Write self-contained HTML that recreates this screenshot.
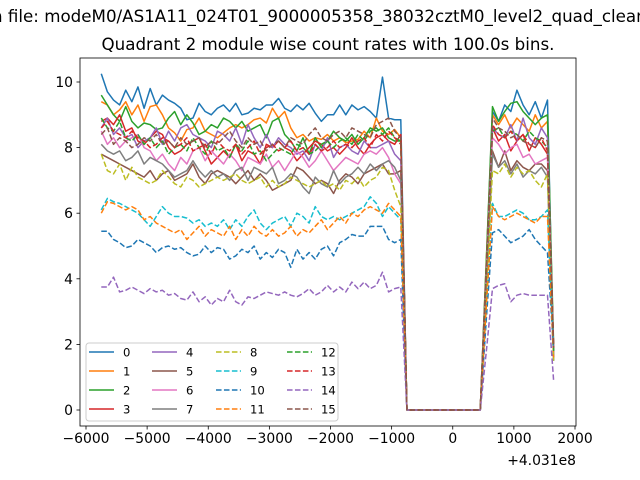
<!DOCTYPE html>
<html><head><meta charset="utf-8"><style>
html,body{margin:0;padding:0;background:#fff;}
svg{display:block;font-family:"DejaVu Sans","Liberation Sans",sans-serif;}
</style></head><body>
<svg id="chart" width="640" height="480" viewBox="0 0 640 480" xmlns="http://www.w3.org/2000/svg">
<rect width="640" height="480" fill="#fff"/>
<text x="-8" y="22" font-size="16.7" fill="#000">n file: modeM0/AS1A11_024T01_9000005358_38032cztM0_level2_quad_clean</text>
<text x="328" y="50" font-size="16.7" text-anchor="middle" fill="#000">Quadrant 2 module wise count rates with 100.0s bins.</text>
<g id="plot"></g>
<g id="axes"></g>
<g id="legend"></g>
</svg>
<script>
const xTicks=[-6000,-5000,-4000,-3000,-2000,-1000,0,1000,2000];
const yTicks=[0,2,4,6,8,10];
const seriesNames=["0","1","2","3","4","5","6","7","8","9","10","11","12","13","14","15"];
const tStart=-5750, binSize=100;
const gap=[0,0,0,0,0,0,0,0,0,0,0,0,0];
const s0a=[10.25,9.7,9.45,9.3,9.75,9.4,9.85,9.2,9.8,9.3,9.6,9.45,9.35,9.2,8.85,8.9,9.35,9.1,9.0,9.2,9.3,9.1,9.35,9.0,9.05,9.2,9.15,9.3,9.3,9.5,9.2,9.1,9.3,9.15,9.35,9.05,8.8,9.0,9.0,9.3,9.0,9.3,9.15,9.25,9.1,8.9,10.15,8.9,8.85,8.85];
const s0b=[4.5,9.1,8.8,9.3,9.1,9.75,9.3,9.0,9.4,8.9,9.45,1.5];
const s1a=[9.4,9.3,9.0,9.15,9.4,9.0,9.3,8.8,9.25,9.3,9.0,8.6,8.45,8.2,8.55,8.6,8.9,8.5,8.4,8.3,8.45,8.6,8.7,8.6,8.7,8.85,8.9,8.75,9.2,8.9,9.1,8.6,8.3,8.4,8.2,8.3,8.25,8.4,8.2,8.3,8.15,8.2,8.25,8.5,8.3,8.9,8.5,8.4,8.55,8.3];
const s1b=[4.6,9.0,8.7,9.0,8.6,8.9,8.7,8.5,9.0,8.6,8.8,1.8];
const s2a=[9.6,9.3,9.0,8.8,9.25,8.8,8.6,8.75,8.7,8.55,8.6,8.9,9.1,8.7,9.0,8.75,8.4,8.5,8.7,8.6,8.9,8.8,8.6,8.8,8.5,8.6,8.7,8.3,8.8,8.9,8.4,8.2,7.9,8.3,7.8,8.3,8.0,8.2,8.5,8.3,8.2,8.4,8.1,8.3,8.6,8.5,8.6,8.3,8.2,8.2];
const s2b=[4.6,9.25,8.8,9.1,9.35,9.4,9.1,8.9,8.7,8.9,9.0,2.0];
const s3a=[8.8,8.9,8.7,9.0,8.5,8.6,8.2,8.1,8.3,8.5,8.4,8.0,7.8,7.9,8.1,8.2,8.3,7.9,7.5,7.7,7.9,7.7,8.1,7.6,7.9,7.8,7.5,8.1,8.0,8.2,8.0,7.9,7.6,7.8,8.0,8.2,8.1,7.9,8.0,7.8,8.0,8.3,8.0,7.8,8.1,8.3,8.4,8.2,8.1,8.4];
const s3b=[4.3,8.6,8.2,8.4,7.9,8.2,8.4,7.9,8.3,8.1,7.8,1.9];
const s4a=[8.6,8.9,8.4,8.6,8.3,8.4,8.0,8.2,8.3,8.6,8.1,8.5,8.2,8.6,8.7,8.4,8.3,8.2,8.0,8.5,8.4,8.2,8.6,8.1,8.7,8.3,8.0,8.4,8.0,8.3,8.1,8.0,7.8,7.9,7.6,8.1,7.9,8.3,7.7,8.0,8.1,7.9,7.8,8.2,8.0,8.0,8.1,8.2,7.8,7.6];
const s4b=[4.2,8.6,8.4,8.3,8.7,8.2,8.9,8.3,8.1,8.6,8.3,1.7];
const s5a=[7.8,7.7,7.6,7.5,7.4,7.3,7.2,7.1,7.3,7.0,7.2,7.3,7.0,7.1,7.2,7.5,7.1,6.9,7.2,7.3,7.2,7.1,6.9,7.1,7.3,7.0,7.2,7.0,6.7,6.8,6.9,7.0,7.4,7.3,7.1,6.9,7.0,6.9,6.6,7.0,7.2,7.1,6.9,7.2,7.3,7.4,7.5,7.2,7.2,7.3];
const s5b=[3.8,7.9,7.4,7.9,7.3,7.6,7.4,7.3,7.5,7.5,7.3,1.6];
const s6a=[8.5,8.1,8.3,8.0,8.2,8.3,8.4,8.0,7.9,7.6,7.8,7.5,7.3,7.7,7.5,7.9,8.0,7.6,7.9,7.7,7.5,7.8,7.6,7.3,7.7,7.6,7.5,7.8,7.4,7.6,7.3,7.6,7.9,7.7,7.4,7.6,7.9,7.6,7.3,7.5,7.7,7.6,7.5,7.8,7.9,7.8,8.0,7.7,7.2,6.9];
const s6b=[4.2,8.3,8.1,7.8,8.0,8.1,7.7,7.8,7.5,7.6,7.7,1.7];
const s7a=[8.1,7.9,7.8,7.9,7.6,7.7,7.9,7.5,7.7,7.6,7.5,7.3,7.1,7.2,7.3,7.6,7.3,7.1,7.3,7.1,7.2,7.0,7.3,7.4,7.0,7.4,7.3,7.2,7.4,6.9,7.0,7.2,7.1,6.8,6.6,7.1,6.9,6.8,7.3,6.9,7.1,7.2,7.4,7.2,7.5,7.3,7.5,7.6,7.4,7.0];
const s7b=[3.9,7.8,7.4,7.6,7.2,7.5,7.1,7.3,7.2,7.4,7.1,1.6];
const s8a=[7.8,7.3,7.2,7.5,7.0,7.4,7.1,7.0,6.9,7.0,7.3,7.1,6.9,6.8,7.1,7.0,6.8,6.9,7.0,7.1,7.0,7.1,7.2,7.0,6.9,7.0,7.1,6.8,7.0,6.8,6.9,7.1,7.0,6.9,6.8,6.9,7.0,6.8,6.9,6.7,7.0,6.9,7.1,6.8,7.0,7.1,7.4,7.3,6.7,6.2];
const s8b=[3.6,7.3,7.2,7.5,7.1,7.4,7.2,7.3,7.0,6.8,7.2,1.5];
const s9a=[6.1,6.45,6.35,6.3,6.2,6.1,6.0,5.8,5.6,5.9,6.2,6.0,5.9,5.9,5.85,5.7,5.8,5.6,5.7,5.6,5.8,5.5,5.8,5.6,5.9,6.1,5.7,5.5,5.7,5.8,5.9,5.6,6.0,5.9,5.7,6.2,5.9,5.8,5.9,5.8,5.9,6.0,6.1,6.2,6.5,6.3,5.9,6.2,6.0,5.8];
const s9b=[3.2,6.3,5.9,5.9,6.0,6.1,6.0,5.8,5.8,5.9,6.1,1.8];
const s10a=[5.45,5.45,5.2,5.1,4.95,5.0,5.2,5.1,5.0,4.8,4.95,5.0,4.9,4.95,4.8,4.7,4.75,5.0,4.8,4.95,4.9,4.6,4.7,4.9,4.8,5.0,4.6,4.8,4.65,4.9,4.8,4.35,4.9,4.6,4.8,4.6,4.9,5.0,4.7,5.1,5.2,5.35,5.3,5.3,5.6,5.6,5.6,5.2,5.1,5.2];
const s10b=[2.8,5.4,5.5,5.3,5.1,5.2,5.3,5.5,5.2,5.0,4.8,1.8];
const s11a=[6.0,6.35,6.3,6.2,6.1,6.2,6.1,5.8,5.9,5.7,5.6,5.5,5.4,5.5,5.2,5.4,5.6,5.3,5.5,5.4,5.3,5.6,5.2,5.5,5.3,5.6,5.4,5.3,5.5,5.3,5.4,5.6,5.3,5.5,5.4,5.6,5.8,5.5,5.7,5.9,5.7,6.0,5.9,6.1,6.2,6.1,6.0,6.3,6.1,5.9];
const s11b=[3.2,6.2,5.9,5.8,5.9,6.0,5.9,5.8,5.7,5.9,5.9,1.6];
const s12a=[8.9,8.6,8.5,8.8,8.3,8.2,8.4,8.1,8.3,8.0,8.2,7.8,8.0,8.1,7.9,8.3,8.0,7.8,8.2,7.9,8.0,7.7,8.1,7.9,8.2,7.8,7.9,7.6,7.8,8.0,7.9,7.8,8.1,8.0,7.8,7.9,8.1,8.2,8.0,8.2,8.3,8.1,8.4,8.2,8.5,8.6,8.4,8.6,8.3,8.2];
const s12b=[4.3,8.5,8.6,8.3,8.5,8.4,8.2,8.5,8.3,8.2,8.0,1.8];
const s13a=[8.6,8.8,8.5,8.4,8.3,8.5,8.3,8.2,8.0,8.1,8.3,8.2,8.0,8.1,8.3,7.9,8.0,8.1,7.8,8.2,8.0,7.9,8.1,7.8,8.0,8.2,7.8,8.0,8.1,7.9,8.0,8.2,7.9,8.0,7.8,8.1,7.9,8.0,8.2,8.0,8.1,8.0,8.2,8.3,8.0,8.4,8.2,8.5,8.3,8.1];
const s13b=[4.2,8.7,8.4,8.3,8.5,8.2,8.4,8.1,8.0,8.3,7.9,1.9];
const s14a=[3.75,3.75,4.05,3.6,3.65,3.75,3.65,3.55,3.7,3.6,3.65,3.5,3.55,3.4,3.35,3.6,3.3,3.45,3.2,3.4,3.3,3.65,3.3,3.2,3.45,3.4,3.5,3.6,3.55,3.5,3.6,3.5,3.45,3.55,3.7,3.5,3.6,3.8,3.6,3.75,3.6,3.9,3.7,3.9,3.7,3.8,4.2,3.6,3.7,3.75];
const s14b=[1.8,3.7,3.8,3.85,3.3,3.5,3.55,3.5,3.5,3.5,3.5,0.9];
const s15a=[8.4,8.6,8.1,8.3,8.2,8.0,8.1,8.3,8.2,8.4,8.1,8.2,8.0,8.3,8.1,8.2,8.3,8.0,8.2,8.1,8.3,8.5,8.2,8.0,8.3,8.1,8.2,7.9,8.1,8.2,8.0,8.3,8.2,8.1,8.4,8.6,8.3,8.2,8.4,8.5,8.3,8.6,8.5,8.4,8.3,8.7,8.8,8.9,8.5,8.3];
const s15b=[4.3,8.9,8.6,8.5,8.3,8.4,8.2,8.1,8.0,8.3,8.2,1.9];

const seriesValues=[
 s0a.concat(gap,s0b),s1a.concat(gap,s1b),s2a.concat(gap,s2b),s3a.concat(gap,s3b),
 s4a.concat(gap,s4b),s5a.concat(gap,s5b),s6a.concat(gap,s6b),s7a.concat(gap,s7b),
 s8a.concat(gap,s8b),s9a.concat(gap,s9b),s10a.concat(gap,s10b),s11a.concat(gap,s11b),
 s12a.concat(gap,s12b),s13a.concat(gap,s13b),s14a.concat(gap,s14b),s15a.concat(gap,s15b)];

const NS="http://www.w3.org/2000/svg";
const colors=["#1f77b4","#ff7f0e","#2ca02c","#d62728","#9467bd","#8c564b","#e377c2","#7f7f7f","#bcbd22","#17becf","#1f77b4","#ff7f0e","#2ca02c","#d62728","#9467bd","#8c564b"];
const L=80,R=576,T=58,B=426;
const xMin=-6000,xMax=2000; const x0px=86,x1px=575;
const xScale=v=>x0px+(v-xMin)*(x1px-x0px)/(xMax-xMin);
const yScale=v=>410+(0-v)*32.8;
function mk(tag,attrs,parent){const e=document.createElementNS(NS,tag);for(const k in attrs)e.setAttribute(k,attrs[k]);parent.appendChild(e);return e;}

const plot=document.getElementById('plot');
const clip=mk('clipPath',{id:'clipA'},plot);
mk('rect',{x:L,y:T,width:R-L,height:B-T},clip);
const lines=mk('g',{'clip-path':'url(#clipA)'},plot);
seriesValues.forEach((vals,k)=>{
  const pts=vals.map((v,i)=>xScale(tStart+i*binSize).toFixed(2)+","+yScale(v).toFixed(2)).join(" ");
  const pl=mk('polyline',{points:pts,fill:'none',stroke:colors[k],'stroke-width':1.5,'stroke-linejoin':'round'},lines);
  
  
  if(k>=8)pl.setAttribute('stroke-dasharray','5.55,2.4');
});

const axes=document.getElementById('axes');
mk('rect',{x:L,y:T,width:R-L,height:B-T,fill:'none',stroke:'#000','stroke-width':0.8},axes);
xTicks.forEach(v=>{
  const x=xScale(v);
  mk('line',{x1:x,y1:B,x2:x,y2:B+3.5,stroke:'#000','stroke-width':0.8},axes);
  const t=mk('text',{x:x,y:B+17,'font-size':13.9,'text-anchor':'middle',fill:'#000'},axes);
  t.textContent=v<0?"\u2212"+Math.abs(v):String(v);
  
  
});
yTicks.forEach(v=>{
  const y=yScale(v);
  mk('line',{x1:L,y1:y,x2:L-3.5,y2:y,stroke:'#000','stroke-width':0.8},axes);
  const t=mk('text',{x:L-7,y:y+5,'font-size':13.9,'text-anchor':'end',fill:'#000'},axes);
  t.textContent=String(v);
  
  
});
const off=mk('text',{x:R,y:465,'font-size':13.9,'text-anchor':'end',fill:'#000'},axes);
off.textContent="+4.031e8";



const leg=document.getElementById('legend');
mk('rect',{x:86,y:343,width:252,height:78,rx:3,fill:'#fff','fill-opacity':0.8,stroke:'#ccc','stroke-width':1},leg);
const colX=[89,152,216,287], rowY=[352,371,390,409];
seriesNames.forEach((n,k)=>{
  const c=Math.floor(k/4), r=k%4;
  const g=mk('g',{},leg);
  
  
  const ln=mk('line',{x1:colX[c],y1:rowY[r],x2:colX[c]+25,y2:rowY[r],stroke:colors[k],'stroke-width':1.5},g);
  if(k>=8)ln.setAttribute('stroke-dasharray','5.55,2.4');
  const t=mk('text',{x:colX[c]+34,y:rowY[r]+4.5,'font-size':11.6,fill:'#000'},g);
  t.textContent=n;
});
</script>
</body></html>
